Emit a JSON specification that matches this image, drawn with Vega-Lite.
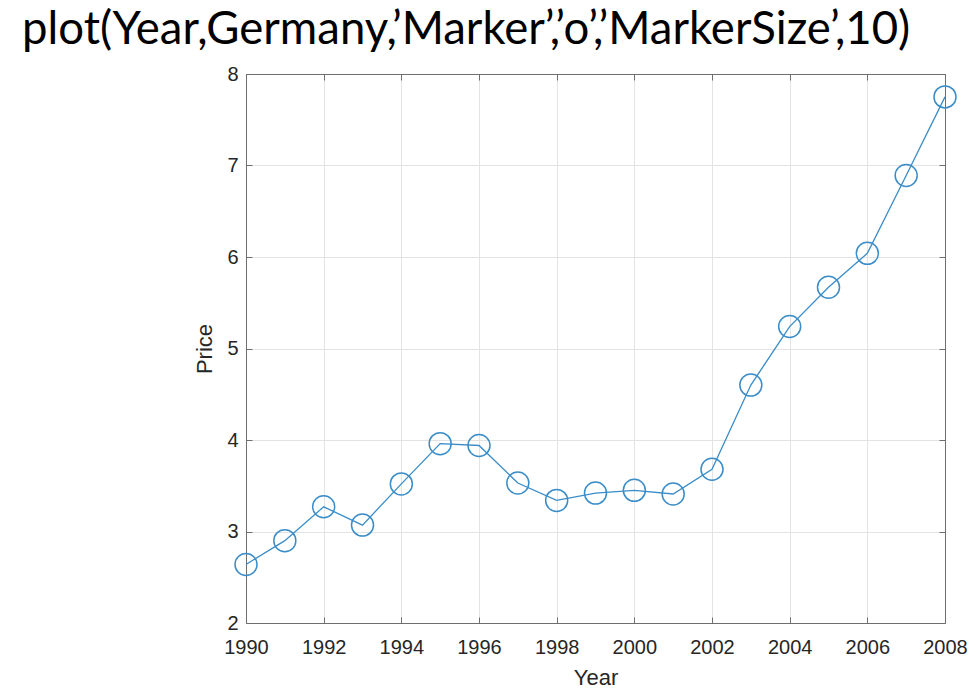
{
  "$schema": "https://vega.github.io/schema/vega-lite/v6.json",
  "width": 699,
  "height": 549,
  "autosize": "none",
  "padding": {"left": 246, "top": 74, "right": 35, "bottom": 67},
  "background": "white",
  "title": {
    "text": "plot(Year,Germany,’Marker’,’o’,’MarkerSize’,10)",
    "anchor": "start",
    "frame": "group",
    "dx": -224,
    "offset": -25,
    "baseline": "alphabetic",
    "font": "Lato",
    "fontSize": 45.5,
    "fontWeight": 400,
    "color": "#000000"
  },
  "config": {
    "view": {"stroke": "#6e6e6e", "strokeWidth": 1},
    "axis": {
      "labelFont": "Liberation Sans",
      "titleFont": "Liberation Sans",
      "labelFontSize": 20,
      "titleFontSize": 22,
      "titleFontWeight": "normal",
      "labelColor": "#262626",
      "titleColor": "#262626",
      "domainColor": "#6e6e6e",
      "tickColor": "#6e6e6e",
      "gridColor": "#e3e3e3",
      "gridWidth": 1,
      "tickSize": -6
    }
  },
  "data": {
    "values": [
      {"Year": 1990, "Price": 2.64},
      {"Year": 1991, "Price": 2.90},
      {"Year": 1992, "Price": 3.27},
      {"Year": 1993, "Price": 3.07},
      {"Year": 1994, "Price": 3.52},
      {"Year": 1995, "Price": 3.96},
      {"Year": 1996, "Price": 3.94},
      {"Year": 1997, "Price": 3.53},
      {"Year": 1998, "Price": 3.34},
      {"Year": 1999, "Price": 3.42},
      {"Year": 2000, "Price": 3.45},
      {"Year": 2001, "Price": 3.41},
      {"Year": 2002, "Price": 3.68},
      {"Year": 2003, "Price": 4.60},
      {"Year": 2004, "Price": 5.24},
      {"Year": 2005, "Price": 5.67},
      {"Year": 2006, "Price": 6.04},
      {"Year": 2007, "Price": 6.89},
      {"Year": 2008, "Price": 7.75}
    ]
  },
  "layer": [
    {
      "mark": {"type": "line", "color": "#3a8dc8", "strokeWidth": 1.3},
      "encoding": {
        "x": {
          "field": "Year", "type": "quantitative",
          "scale": {"domain": [1990, 2008], "nice": false, "zero": false},
          "axis": {
            "orient": "bottom",
            "values": [1990, 1992, 1994, 1996, 1998, 2000, 2002, 2004, 2006, 2008],
            "format": "d",
            "title": "Year",
            "labelPadding": 20,
            "titlePadding": 10,
            "labelFlush": false,
            "grid": true
          }
        },
        "y": {
          "field": "Price", "type": "quantitative",
          "scale": {"domain": [2, 8], "nice": false, "zero": false},
          "axis": {
            "orient": "left",
            "values": [2, 3, 4, 5, 6, 7, 8],
            "format": "d",
            "title": "Price",
            "labelPadding": 14,
            "titlePadding": 10,
            "labelFlush": false,
            "grid": true
          }
        }
      }
    },
    {
      "mark": {"type": "point", "shape": "circle", "filled": false, "color": "#3a8dc8", "strokeWidth": 1.5, "size": 484, "opacity": 1},
      "encoding": {
        "x": {
          "field": "Year", "type": "quantitative",
          "scale": {"domain": [1990, 2008], "nice": false, "zero": false},
          "axis": {
            "orient": "top",
            "values": [1990, 1992, 1994, 1996, 1998, 2000, 2002, 2004, 2006, 2008],
            "labels": false,
            "title": null,
            "grid": false
          }
        },
        "y": {
          "field": "Price", "type": "quantitative",
          "scale": {"domain": [2, 8], "nice": false, "zero": false},
          "axis": {
            "orient": "right",
            "values": [2, 3, 4, 5, 6, 7, 8],
            "labels": false,
            "title": null,
            "grid": false
          }
        }
      }
    }
  ],
  "resolve": {"axis": {"x": "independent", "y": "independent"}}
}
